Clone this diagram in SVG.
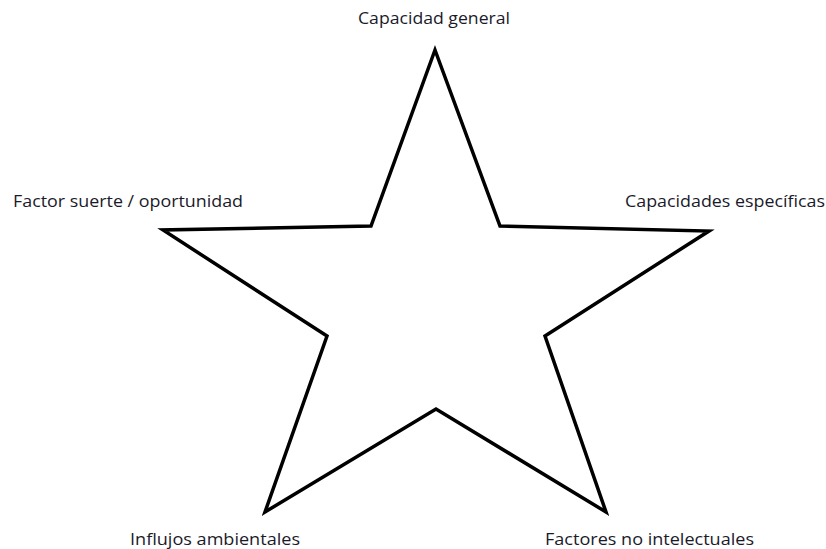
<svg xmlns="http://www.w3.org/2000/svg" width="826" height="549" viewBox="0 0 826 549">
<style>
.lbl{font-family:"Open Sans","Liberation Sans",sans-serif;font-size:15.5px;fill:#1a1a2a}
.star{fill:none;stroke:#000;stroke-width:3.5;stroke-linejoin:miter}
</style>
<rect width="826" height="549" fill="#fff"/>
<g id="connectors">
<polygon class="star" points="435,50 500,226 709,231 545,336 606,512 436,409 265,512 327,336 163,230 371,226"/>
</g>
<g id="n-capacidad-general"><text class="lbl" x="358" y="24" textLength="152" lengthAdjust="spacingAndGlyphs">Capacidad general</text></g>
<g id="n-factor-suerte"><text class="lbl" x="13" y="207" textLength="230" lengthAdjust="spacingAndGlyphs">Factor suerte / oportunidad</text></g>
<g id="n-capacidades-especificas"><text class="lbl" x="625" y="207" textLength="200" lengthAdjust="spacingAndGlyphs">Capacidades específicas</text></g>
<g id="n-influjos-ambientales"><text class="lbl" x="130" y="545" textLength="170" lengthAdjust="spacingAndGlyphs">Influjos ambientales</text></g>
<g id="n-factores-no-intelectuales"><text class="lbl" x="545" y="545" textLength="209" lengthAdjust="spacingAndGlyphs">Factores no intelectuales</text></g>
</svg>
